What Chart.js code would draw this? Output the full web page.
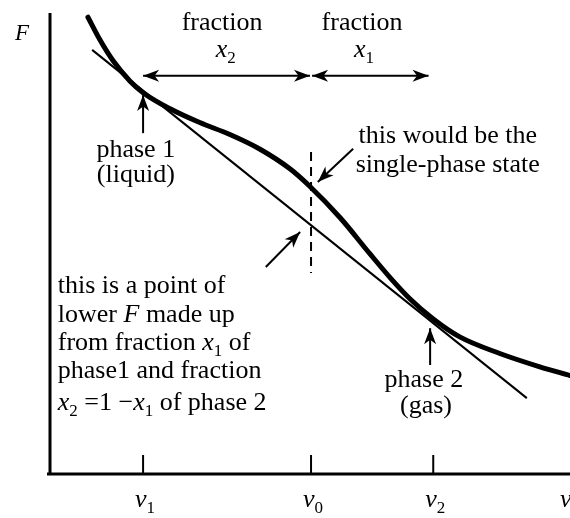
<!DOCTYPE html>
<html lang="en">
<head>
<meta charset="UTF-8">
<title>Free energy F against volume v</title>
<script src="https://cdn.jsdelivr.net/npm/chart.js"></script>
<style>
    body { margin: 0; background: #fff; }
    canvas { display: block; }
</style>
</head>
<body>
<canvas id="freeEnergyChart" width="570" height="518"></canvas>
<script>
// marked volumes on the v axis: v1, v0, v2 (and the axis name at the end)
const tickValues = [1.79, 5.02, 7.37];
const tickSubs = ['1', '0', '2'];
const axisNameV = 9.92;

// F(v) curve
const curveV = [0.73, 0.96, 1.21, 1.54, 1.79, 2.31, 2.88, 3.46, 4.04, 4.62, 5.0, 5.58, 6.15, 6.54, 6.92, 7.37, 7.88, 8.65, 9.42, 10.0];
const curveF = [9.93, 9.44, 8.99, 8.54, 8.29, 7.94, 7.64, 7.38, 7.06, 6.63, 6.25, 5.57, 4.79, 4.27, 3.81, 3.37, 2.98, 2.62, 2.33, 2.14];

// common tangent touching phase 1 and phase 2
const tangentV = [0.81, 9.17];
const tangentF = [9.22, 1.65];

// single-phase state marker at v0
const markerF = [7.0, 4.37];

const FONT = '"Liberation Serif", "Times New Roman", serif';

// text runs: i = italic, s = subscript
const labels = [
    { x: 3.31, y: 9.65, align: 'center', runs: [{ t: 'fraction' }] },
    { x: 3.38, y: 9.06, align: 'center', runs: [{ t: 'x', i: 1 }, { t: '2', s: 1 }] },
    { x: 6.0, y: 9.65, align: 'center', runs: [{ t: 'fraction' }] },
    { x: 6.04, y: 9.06, align: 'center', runs: [{ t: 'x', i: 1 }, { t: '1', s: 1 }] },
    { x: 1.65, y: 6.89, align: 'center', runs: [{ t: 'phase 1' }] },
    { x: 1.65, y: 6.35, align: 'center', runs: [{ t: '(liquid)' }] },
    { x: 7.65, y: 7.2, align: 'center', runs: [{ t: 'this would be the' }] },
    { x: 7.65, y: 6.57, align: 'center', runs: [{ t: 'single-phase state' }] },
    { x: 0.15, y: 3.93, align: 'left', runs: [{ t: 'this is a point of' }] },
    { x: 0.15, y: 3.3, align: 'left', runs: [{ t: 'lower ' }, { t: 'F', i: 1 }, { t: ' made up' }] },
    { x: 0.15, y: 2.69, align: 'left', runs: [{ t: 'from fraction ' }, { t: 'x', i: 1 }, { t: '1', s: 1 }, { t: ' of' }] },
    { x: 0.15, y: 2.08, align: 'left', runs: [{ t: 'phase1 and fraction' }] },
    { x: 0.15, y: 1.39, align: 'left', runs: [{ t: 'x', i: 1 }, { t: '2', s: 1 }, { t: ' =1 \u2212' }, { t: 'x', i: 1 }, { t: '1', s: 1 }, { t: ' of phase 2' }] },
    { x: 7.19, y: 1.89, align: 'center', runs: [{ t: 'phase 2' }] },
    { x: 7.23, y: 1.33, align: 'center', runs: [{ t: '(gas)' }] }
];

// arrows [fromV, fromF, toV, toF, heads at both ends]
const arrows = [
    [1.79, 8.66, 5.0, 8.66, true],
    [5.04, 8.66, 7.28, 8.66, true],
    [1.79, 7.41, 1.79, 8.24, false],
    [7.31, 2.37, 7.31, 3.17, false],
    [5.83, 7.07, 5.15, 6.35, false],
    [4.15, 4.5, 4.81, 5.26, false]
];

function drawRuns(ctx, runs, x, y, align, size) {
    const fontFor = r => (r.i ? 'italic ' : '') + (r.s ? Math.round(size * 0.66) : size) + 'px ' + FONT;
    let total = 0;
    runs.forEach(r => { ctx.font = fontFor(r); total += ctx.measureText(r.t).width; });
    let cx = align === 'center' ? x - total / 2 : x;
    ctx.textAlign = 'left';
    ctx.textBaseline = 'alphabetic';
    runs.forEach(r => {
        ctx.font = fontFor(r);
        ctx.fillText(r.t, cx, r.s ? y + size * 0.22 : y);
        cx += ctx.measureText(r.t).width;
    });
}

function arrowHead(ctx, x1, y1, x2, y2) {
    const a = Math.atan2(y2 - y1, x2 - x1);
    const len = 16, half = 6;
    ctx.save();
    ctx.translate(x2, y2);
    ctx.rotate(a);
    ctx.beginPath();
    ctx.moveTo(0, 0);
    ctx.lineTo(-len, -half);
    ctx.lineTo(-len * 0.72, 0);
    ctx.lineTo(-len, half);
    ctx.closePath();
    ctx.fill();
    ctx.restore();
}

const figurePlugin = {
    id: 'figure',
    afterDatasetsDraw(chart) {
        const { ctx, chartArea, scales: { x, y } } = chart;
        ctx.save();
        ctx.strokeStyle = '#000';
        ctx.fillStyle = '#000';

        // axes
        ctx.lineWidth = 3;
        ctx.beginPath();
        ctx.moveTo(chartArea.left, chartArea.top - 1);
        ctx.lineTo(chartArea.left, chartArea.bottom + 1.5);
        ctx.moveTo(chartArea.left - 3, chartArea.bottom);
        ctx.lineTo(chartArea.right, chartArea.bottom);
        ctx.stroke();

        // tick marks pointing into the plot, with v labels below
        ctx.lineWidth = 2;
        tickValues.forEach((v, i) => {
            const px = x.getPixelForValue(v);
            ctx.beginPath();
            ctx.moveTo(px, chartArea.bottom);
            ctx.lineTo(px, chartArea.bottom - 19);
            ctx.stroke();
            drawRuns(ctx, [{ t: 'v', i: 1 }, { t: tickSubs[i], s: 1 }], px + 2, chartArea.bottom + 33, 'center', 26);
        });
        drawRuns(ctx, [{ t: 'v', i: 1 }], x.getPixelForValue(axisNameV), chartArea.bottom + 33, 'center', 26);

        // F axis name
        drawRuns(ctx, [{ t: 'F', i: 1 }], 22, 40, 'center', 23);

        // arrows
        ctx.lineWidth = 2;
        arrows.forEach(([v1, f1, v2, f2, both]) => {
            const x1 = x.getPixelForValue(v1), y1 = y.getPixelForValue(f1);
            const x2 = x.getPixelForValue(v2), y2 = y.getPixelForValue(f2);
            ctx.beginPath();
            ctx.moveTo(x1, y1);
            ctx.lineTo(x2, y2);
            ctx.stroke();
            arrowHead(ctx, x1, y1, x2, y2);
            if (both) arrowHead(ctx, x2, y2, x1, y1);
        });

        // annotations
        labels.forEach(l => {
            drawRuns(ctx, l.runs, x.getPixelForValue(l.x), y.getPixelForValue(l.y), l.align, 26);
        });
        ctx.restore();
    }
};

const toPoints = (xs, ys) => xs.map((v, i) => ({ x: v, y: ys[i] }));

new Chart(document.getElementById('freeEnergyChart').getContext('2d'), {
    type: 'scatter',
    data: {
        datasets: [
            {
                data: toPoints(curveV, curveF),
                showLine: true,
                borderColor: '#000',
                borderWidth: 5,
                borderCapStyle: 'round',
                pointRadius: 0,
                cubicInterpolationMode: 'monotone',
                clip: false
            },
            {
                data: toPoints(tangentV, tangentF),
                showLine: true,
                borderColor: '#000',
                borderWidth: 2,
                pointRadius: 0
            },
            {
                data: toPoints([tickValues[1], tickValues[1]], markerF),
                showLine: true,
                borderColor: '#000',
                borderWidth: 2,
                borderDash: [9, 6],
                pointRadius: 0
            }
        ]
    },
    options: {
        responsive: false,
        animation: false,
        events: [],
        layout: { padding: { left: 50, top: 14, right: 0, bottom: 44 } },
        plugins: { legend: { display: false }, tooltip: { enabled: false } },
        scales: {
            x: { type: 'linear', min: 0, max: 10, display: false },
            y: { type: 'linear', min: 0, max: 10, display: false }
        }
    },
    plugins: [figurePlugin]
});
</script>
</body>
</html>
